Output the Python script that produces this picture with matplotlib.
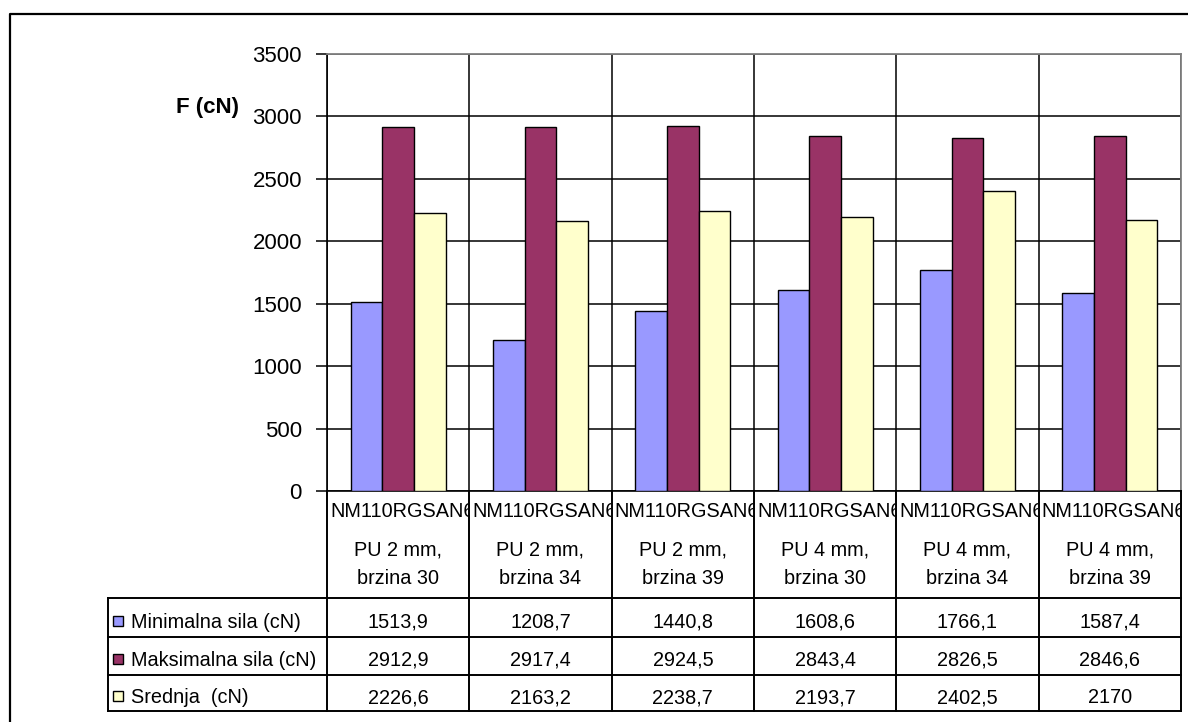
import numpy as np
import matplotlib
matplotlib.use("Agg")
import matplotlib.pyplot as plt
from matplotlib.transforms import Bbox

plt.rcParams['font.family'] = ['Liberation Sans', 'DejaVu Sans']

# ---- data ----
cat_prefix = "NM110RGSAN6"
cat_line1 = ["PU 2 mm,", "PU 2 mm,", "PU 2 mm,", "PU 4 mm,", "PU 4 mm,", "PU 4 mm,"]
cat_line2 = ["brzina 30", "brzina 34", "brzina 39", "brzina 30", "brzina 34", "brzina 39"]
series_names = ["Minimalna sila (cN)", "Maksimalna sila (cN)", "Srednja  (cN)"]
min_vals = [1513.9, 1208.7, 1440.8, 1608.6, 1766.1, 1587.4]
max_vals = [2912.9, 2917.4, 2924.5, 2843.4, 2826.5, 2846.6]
avg_vals = [2226.6, 2163.2, 2238.7, 2193.7, 2402.5, 2170]
series_colors = ["#9999FF", "#993366", "#FFFFCC"]
y_ticks = [0, 500, 1000, 1500, 2000, 2500, 3000, 3500]
y_label = "F (cN)"

def fmt(v):
    s = ("%.1f" % v).rstrip('0').rstrip('.')
    return s.replace('.', ',')

W, H = 1188, 722
fig = plt.figure(figsize=(W / 100, H / 100), dpi=100)

# plot area geometry (pixels)
PL, PR, PT, PB = 327, 1181, 54, 491
ax = fig.add_axes([PL / W, 1 - PB / H, (PR - PL) / W, (PB - PT) / H])
n = len(min_vals)
ax.set_xlim(0, n)
ax.set_ylim(0, 3500)
x = np.arange(n) + 0.5
bw = 0.222
for off, vals, col in zip([-bw, 0, bw], [min_vals, max_vals, avg_vals], series_colors):
    ax.bar(x + off, vals, bw, color=col, edgecolor='black', linewidth=1.0, zorder=3)

ax.set_yticks(y_ticks)
ax.set_xticks(np.arange(n + 1))
ax.set_xticklabels([])
ax.grid(True, color='black', linewidth=1.1, zorder=0)
ax.set_axisbelow(True)
ax.tick_params(axis='x', length=0)
ax.tick_params(axis='y', length=8, width=1.1, direction='out', pad=10, labelsize=16, colors='black')
for s in ['top', 'right']:
    ax.spines[s].set_color('#808080')
    ax.spines[s].set_linewidth(1.3)
for s in ['left', 'bottom']:
    ax.spines[s].set_color('black')
    ax.spines[s].set_linewidth(1.2)

fig.text(207 / W, 1 - 107 / H, y_label, fontsize=16, fontweight='bold', ha='center', va='center')

# ---- overlay for data table ----
ov = fig.add_axes([0, 0, 1, 1], zorder=5)
ov.set_xlim(0, W)
ov.set_ylim(H, 0)
ov.axis('off')

lw = 1.4
edges = [PL + (PR - PL) * k / n for k in range(n + 1)]
rows = [598, 637, 675, 711]
TL = 108
for xe in edges:
    ov.plot([xe, xe], [PB, rows[-1]], color='black', lw=lw, solid_capstyle='projecting')
ov.plot([TL, TL], [rows[0], rows[-1]], color='black', lw=lw)
for yr in rows:
    ov.plot([TL, PR], [yr, yr], color='black', lw=lw)

# outer frame
ov.plot([10, 10, W + 5], [H + 5, 14, 14], color='black', lw=1.6)

fs = 14.3
# category labels
for k in range(n):
    x0, x1 = edges[k], edges[k + 1]
    t = ov.text(x0 + 3, 517, cat_prefix, fontsize=fs, ha='left', va='baseline')
    t.set_clip_on(True)
    t.set_clip_box(Bbox([[x0 + 1, H - 600], [x1 - 1, H - PB]]))
    cx = (x0 + x1) / 2
    ov.text(cx, 555, cat_line1[k], fontsize=fs, ha='center', va='baseline')
    ov.text(cx, 584, cat_line2[k], fontsize=fs, ha='center', va='baseline')

# data rows
for r, (name, vals, col) in enumerate(zip(series_names, [min_vals, max_vals, avg_vals], series_colors)):
    yc = (rows[r] + rows[r + 1]) / 2 + 3
    ov.add_patch(plt.Rectangle((113, yc - 5), 10, 10, facecolor=col, edgecolor='black', lw=1.0))
    ov.text(131, yc + 7, name, fontsize=fs, ha='left', va='baseline')
    for k in range(n):
        cx = (edges[k] + edges[k + 1]) / 2
        ov.text(cx, yc + 7, fmt(vals[k]), fontsize=fs, ha='center', va='baseline')

fig.savefig("out.png", dpi=100)
